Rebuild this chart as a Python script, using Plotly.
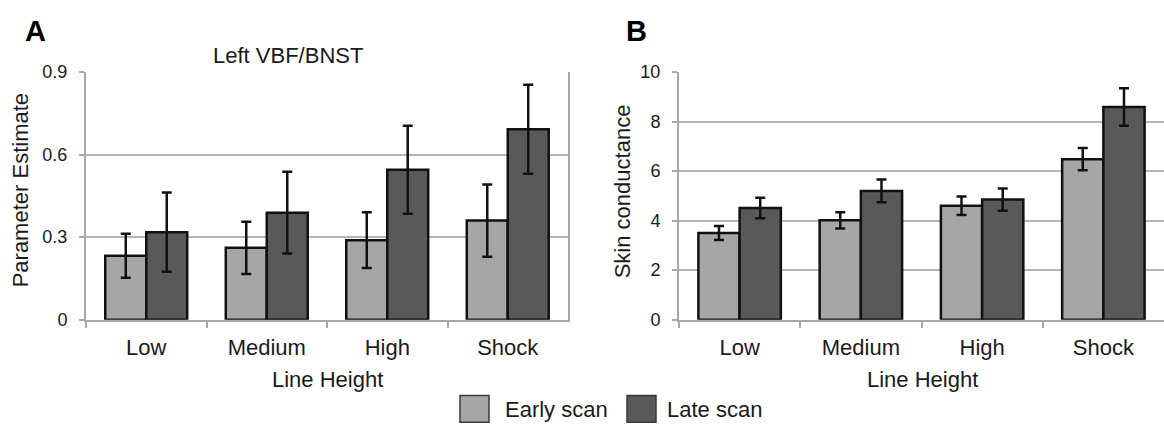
import plotly.graph_objects as go

# ---------------- data ----------------
categories = ["Low", "Medium", "High", "Shock"]
series_names = ["Early scan", "Late scan"]

a_early = [0.232, 0.261, 0.289, 0.360]
a_early_err = [0.080, 0.095, 0.101, 0.131]
a_late = [0.318, 0.389, 0.545, 0.692]
a_late_err = [0.144, 0.149, 0.160, 0.162]

b_early = [3.50, 4.01, 4.60, 6.48]
b_early_err = [0.28, 0.33, 0.37, 0.45]
b_late = [4.51, 5.20, 4.85, 8.59]
b_late_err = [0.41, 0.46, 0.45, 0.76]

a_yticks = [0, 0.3, 0.6, 0.9]
a_yticklabels = ["0", "0.3", "0.6", "0.9"]
b_yticks = [0, 2, 4, 6, 8, 10]
b_yticklabels = ["0", "2", "4", "6", "8", "10"]

panel_a_title = "Left VBF/BNST"
a_ytitle = "Parameter Estimate"
b_ytitle = "Skin conductance"
xtitle = "Line Height"

# ---------------- style ----------------
W, H = 1164, 437
FONT = "Liberation Sans, Arial, sans-serif"
TXT = "#1a1a1a"
COL = ["#a6a6a6", "#595959"]
AXC = "#a8a8a8"
GRC = "#b5b5b5"


def px(x):
    return x / W


def py(y):
    return 1 - y / H


fig = go.Figure()

for vals, errs, name, col, xa, ya in [
    (a_early, a_early_err, series_names[0], COL[0], "x", "y"),
    (a_late, a_late_err, series_names[1], COL[1], "x", "y"),
    (b_early, b_early_err, series_names[0], COL[0], "x2", "y2"),
    (b_late, b_late_err, series_names[1], COL[1], "x2", "y2"),
]:
    fig.add_trace(go.Bar(
        x=categories, y=vals, name=name, xaxis=xa, yaxis=ya,
        marker=dict(color=col, line=dict(color="#111111", width=2.5)),
        error_y=dict(type="data", array=errs, visible=True,
                     color="#111111", thickness=2.5, width=5),
        showlegend=False,
    ))

ydom = [py(324.5), py(65)]
xcommon = dict(
    type="category", showline=True, linecolor=AXC, linewidth=2,
    ticks="outside", tickson="boundaries", ticklen=6, tickcolor=AXC,
    tickwidth=1.5, showgrid=False, zeroline=False,
    tickfont=dict(family=FONT, size=22, color=TXT),
    ticklabelstandoff=7,
)
ycommon = dict(
    showline=True, linecolor=AXC, linewidth=2, ticks="outside",
    ticklen=5, tickcolor=AXC, tickwidth=1.5, showgrid=True,
    gridcolor=GRC, gridwidth=1.5, zeroline=False,
    tickfont=dict(family=FONT, size=18, color=TXT),
    ticklabelstandoff=8,
)

fig.update_layout(
    width=W, height=H,
    margin=dict(l=0, r=0, t=0, b=0),
    paper_bgcolor="white", plot_bgcolor="white",
    barmode="group", bargap=0.32, bargroupgap=0,
    font=dict(family=FONT, color=TXT),
    xaxis=dict(domain=[px(86), px(568)], anchor="y", **xcommon),
    yaxis=dict(domain=ydom, anchor="x", range=[0, 0.9],
               tickvals=a_yticks, ticktext=a_yticklabels,
               mirror=True, **ycommon),
    xaxis2=dict(domain=[px(679), 1.0], anchor="y2", **xcommon),
    yaxis2=dict(domain=ydom, anchor="x2", range=[0, 10],
                tickvals=b_yticks, ticktext=b_yticklabels, **ycommon),
)

ann = []
# panel letters
ann.append(dict(text="<b>A</b>", x=px(23), y=py(22), xref="paper", yref="paper",
                xanchor="left", yanchor="middle", showarrow=False,
                font=dict(family=FONT, size=29, color="#000")))
ann.append(dict(text="<b>B</b>", x=px(624), y=py(22), xref="paper", yref="paper",
                xanchor="left", yanchor="middle", showarrow=False,
                font=dict(family=FONT, size=29, color="#000")))
# title A
ann.append(dict(text=panel_a_title, x=px(288), y=py(48), xref="paper", yref="paper",
                xanchor="center", yanchor="middle", showarrow=False,
                font=dict(family=FONT, size=22, color=TXT)))
# y titles
ann.append(dict(text=a_ytitle, x=px(20), y=py(189), xref="paper", yref="paper",
                xanchor="center", yanchor="middle", textangle=-90, showarrow=False,
                font=dict(family=FONT, size=22, color=TXT)))
ann.append(dict(text=b_ytitle, x=px(622), y=py(190), xref="paper", yref="paper",
                xanchor="center", yanchor="middle", textangle=-90, showarrow=False,
                font=dict(family=FONT, size=22, color=TXT)))
# x titles
ann.append(dict(text=xtitle, x=px(327), y=py(387), xref="paper", yref="paper",
                xanchor="center", yanchor="middle", showarrow=False,
                font=dict(family=FONT, size=22, color=TXT)))
ann.append(dict(text=xtitle, x=px(922), y=py(387), xref="paper", yref="paper",
                xanchor="center", yanchor="middle", showarrow=False,
                font=dict(family=FONT, size=22, color=TXT)))

# legend (custom swatches)
shapes = []
leg_items = [(460, 503), (627, 665)]
for (sx, tx), name, col in zip(leg_items, series_names, COL):
    shapes.append(dict(type="rect", xref="paper", yref="paper",
                       x0=px(sx), x1=px(sx + 29), y0=py(432), y1=py(404),
                       fillcolor=col, line=dict(color="#3a3a3a", width=1.5)))
    ann.append(dict(text=name, x=px(tx), y=py(419), xref="paper", yref="paper",
                    xanchor="left", yanchor="middle", showarrow=False,
                    font=dict(family=FONT, size=22, color=TXT)))

fig.update_layout(annotations=ann, shapes=shapes)

fig.write_html("out.html")
